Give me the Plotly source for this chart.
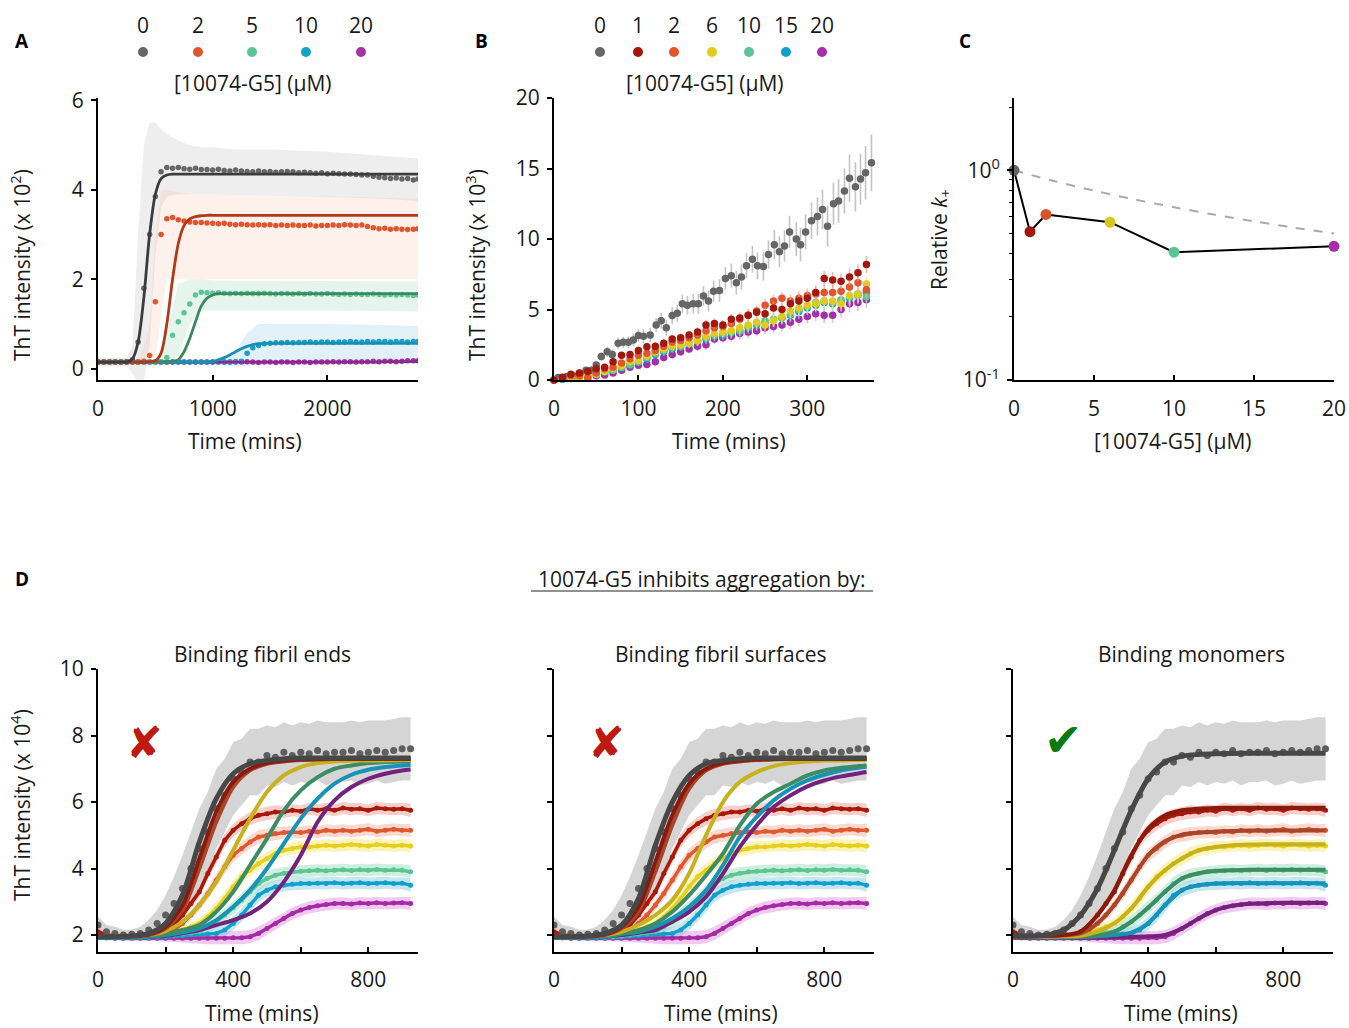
import plotly.graph_objects as go

# ---------------- DATA ----------------
# Panel A: ThT intensity (x 10^2) vs time (mins)
A_conc = ["0", "2", "5", "10", "20"]
A_time = [0, 50, 100, 150, 200, 250, 300, 350, 400, 450, 500, 550, 600, 650, 700, 750, 800, 850, 900, 950,
          1000, 1050, 1100, 1150, 1200, 1250, 1300, 1350, 1400, 1450, 1500, 1550, 1600, 1650, 1700, 1750, 1800,
          1850, 1900, 1950, 2000, 2050, 2100, 2150, 2200, 2250, 2300, 2350, 2400, 2450, 2500, 2550, 2600, 2650,
          2700, 2750, 2790]
A_0 = [0.15, 0.15, 0.15, 0.15, 0.15, 0.16, 0.2, 0.6, 1.8, 3.0,
       3.85, 4.4, 4.5, 4.48, 4.5, 4.47, 4.46, 4.48, 4.45, 4.45,
       4.44, 4.46, 4.43, 4.42, 4.44, 4.42, 4.41, 4.40, 4.42, 4.40,
       4.41, 4.39, 4.40, 4.41, 4.40, 4.38, 4.39, 4.38, 4.37, 4.38,
       4.36, 4.37, 4.36, 4.35, 4.35, 4.34, 4.33, 4.33, 4.30, 4.28,
       4.27, 4.25, 4.26, 4.24, 4.25, 4.22, 4.24]
A_0_fit = [0.15, 0.15, 0.15, 0.15, 0.15, 0.15, 0.22, 0.6, 1.6, 3.0,
           3.9, 4.25, 4.33, 4.35, 4.35, 4.35, 4.35, 4.35, 4.35, 4.35,
           4.35, 4.35, 4.35, 4.35, 4.35, 4.35, 4.35, 4.35, 4.35, 4.35,
           4.35, 4.35, 4.35, 4.35, 4.35, 4.35, 4.35, 4.35, 4.35, 4.35,
           4.35, 4.35, 4.35, 4.35, 4.35, 4.35, 4.35, 4.35, 4.35, 4.35,
           4.35, 4.35, 4.35, 4.35, 4.35, 4.35, 4.35]
A_2 = [0.15, 0.15, 0.15, 0.15, 0.15, 0.15, 0.15, 0.15, 0.17, 0.3,
       1.5, 3.0, 3.35, 3.38, 3.33, 3.30, 3.28, 3.27, 3.27, 3.26,
       3.25, 3.24, 3.25, 3.23, 3.22, 3.23, 3.22, 3.21, 3.22, 3.21,
       3.22, 3.20, 3.21, 3.20, 3.21, 3.20, 3.20, 3.21, 3.19, 3.20,
       3.20, 3.21, 3.20, 3.22, 3.21, 3.20, 3.21, 3.18, 3.15, 3.13,
       3.14, 3.12, 3.13, 3.12, 3.11, 3.12, 3.13]
A_2_fit = [0.15, 0.15, 0.15, 0.15, 0.15, 0.15, 0.15, 0.15, 0.15, 0.16,
           0.18, 0.35, 1.0, 2.0, 2.8, 3.2, 3.35, 3.4, 3.42, 3.43,
           3.43, 3.43, 3.43, 3.43, 3.43, 3.43, 3.43, 3.43, 3.43, 3.43,
           3.43, 3.43, 3.43, 3.43, 3.43, 3.43, 3.43, 3.43, 3.43, 3.43,
           3.43, 3.43, 3.43, 3.43, 3.43, 3.43, 3.43, 3.43, 3.43, 3.43,
           3.43, 3.43, 3.43, 3.43, 3.43, 3.43, 3.43]
A_5 = [0.15, 0.15, 0.15, 0.15, 0.15, 0.15, 0.15, 0.15, 0.15, 0.15,
       0.15, 0.16, 0.25, 0.75, 1.05, 1.25, 1.45, 1.65, 1.71, 1.70,
       1.69, 1.70, 1.69, 1.68, 1.69, 1.68, 1.69, 1.68, 1.68, 1.69,
       1.68, 1.67, 1.68, 1.68, 1.67, 1.68, 1.67, 1.68, 1.67, 1.67,
       1.68, 1.67, 1.66, 1.67, 1.66, 1.67, 1.66, 1.66, 1.67, 1.66,
       1.65, 1.66, 1.65, 1.66, 1.65, 1.64, 1.65]
A_5_fit = [0.15, 0.15, 0.15, 0.15, 0.15, 0.15, 0.15, 0.15, 0.15, 0.15,
           0.15, 0.15, 0.16, 0.17, 0.2, 0.38, 0.68, 1.05, 1.4, 1.58,
           1.65, 1.68, 1.68, 1.68, 1.68, 1.68, 1.68, 1.68, 1.68, 1.68,
           1.68, 1.68, 1.68, 1.68, 1.68, 1.68, 1.68, 1.68, 1.68, 1.68,
           1.68, 1.68, 1.68, 1.68, 1.68, 1.68, 1.68, 1.68, 1.68, 1.68,
           1.68, 1.68, 1.68, 1.68, 1.68, 1.68, 1.68]
A_10 = [0.15, 0.15, 0.15, 0.15, 0.15, 0.15, 0.15, 0.15, 0.15, 0.15,
        0.15, 0.15, 0.15, 0.15, 0.15, 0.15, 0.15, 0.15, 0.15, 0.15,
        0.15, 0.15, 0.15, 0.15, 0.15, 0.17, 0.35, 0.47, 0.52, 0.56,
        0.57, 0.58, 0.58, 0.59, 0.58, 0.59, 0.59, 0.60, 0.59, 0.60,
        0.60, 0.59, 0.60, 0.60, 0.61, 0.60, 0.60, 0.61, 0.60, 0.61,
        0.61, 0.60, 0.61, 0.61, 0.60, 0.61, 0.61]
A_10_fit = [0.15, 0.15, 0.15, 0.15, 0.15, 0.15, 0.15, 0.15, 0.15, 0.15,
            0.15, 0.15, 0.15, 0.15, 0.15, 0.15, 0.15, 0.15, 0.15, 0.15,
            0.16, 0.2, 0.25, 0.31, 0.38, 0.45, 0.5, 0.54, 0.56, 0.57,
            0.57, 0.57, 0.57, 0.57, 0.57, 0.57, 0.57, 0.57, 0.57, 0.57,
            0.57, 0.57, 0.57, 0.57, 0.57, 0.57, 0.57, 0.57, 0.57, 0.57,
            0.57, 0.57, 0.57, 0.57, 0.57, 0.57, 0.57]
A_20 = [0.15, 0.15, 0.15, 0.15, 0.15, 0.15, 0.15, 0.15, 0.15, 0.15,
        0.15, 0.15, 0.15, 0.15, 0.15, 0.15, 0.15, 0.15, 0.15, 0.15,
        0.15, 0.15, 0.15, 0.15, 0.16, 0.15, 0.16, 0.15, 0.14, 0.15,
        0.15, 0.14, 0.15, 0.15, 0.14, 0.15, 0.15, 0.14, 0.15, 0.15,
        0.15, 0.16, 0.15, 0.16, 0.16, 0.15, 0.16, 0.16, 0.17, 0.16,
        0.17, 0.17, 0.16, 0.17, 0.18, 0.18, 0.18]
A_20_fit = [0.15, 0.15, 0.15, 0.15, 0.15, 0.15, 0.15, 0.15, 0.15, 0.15,
            0.15, 0.15, 0.15, 0.15, 0.15, 0.15, 0.15, 0.15, 0.15, 0.15,
            0.15, 0.15, 0.15, 0.15, 0.15, 0.15, 0.15, 0.15, 0.15, 0.15,
            0.15, 0.15, 0.15, 0.15, 0.15, 0.15, 0.15, 0.15, 0.15, 0.15,
            0.15, 0.15, 0.15, 0.15, 0.15, 0.15, 0.15, 0.15, 0.15, 0.15,
            0.16, 0.16, 0.16, 0.16, 0.16, 0.16, 0.16]
# spread (error envelopes) for panel A
A_band_t = [0, 250, 300, 350, 400, 450, 500, 550, 600, 700, 800, 900, 1000, 1200, 1300, 1400, 1500, 2000, 2500, 2790]
A_0_hi = [0.25, 0.25, 0.5, 3.0, 5.0, 5.5, 5.5, 5.35, 5.25, 5.1, 5.0, 4.95, 4.95, 4.9, 4.9, 4.9, 4.9, 4.85, 4.75, 4.7]
A_0_lo = [0.05, 0.05, -0.1, -0.3, -0.25, 0.5, 2.5, 3.6, 3.85, 3.9, 3.9, 3.9, 3.9, 3.88, 3.88, 3.86, 3.86, 3.84, 3.8, 3.75]
A_2_hi = [0.2, 0.2, 0.2, 0.25, 0.5, 1.0, 3.0, 4.0, 4.0, 3.95, 3.9, 3.9, 3.9, 3.88, 3.88, 3.87, 3.86, 3.85, 3.82, 3.8]
A_2_lo = [0.1, 0.1, 0.1, 0.1, 0.1, 0.0, 0.2, 1.2, 2.0, 2.0, 2.0, 2.0, 2.0, 2.0, 2.0, 2.0, 2.0, 2.0, 2.0, 2.0]
A_5_hi = [0.2, 0.2, 0.2, 0.2, 0.2, 0.2, 0.2, 0.3, 0.8, 1.9, 2.0, 2.0, 1.98, 1.97, 1.97, 1.96, 1.96, 1.96, 1.95, 1.95]
A_5_lo = [0.1, 0.1, 0.1, 0.1, 0.1, 0.1, 0.1, 0.1, 0.1, 0.3, 1.0, 1.3, 1.3, 1.3, 1.3, 1.3, 1.3, 1.3, 1.29, 1.28]
A_10_hi = [0.2, 0.2, 0.2, 0.2, 0.2, 0.2, 0.2, 0.2, 0.2, 0.2, 0.2, 0.2, 0.2, 0.4, 0.8, 1.0, 1.0, 1.0, 0.98, 0.95]
A_10_lo = [0.1, 0.1, 0.1, 0.1, 0.1, 0.1, 0.1, 0.1, 0.1, 0.1, 0.1, 0.1, 0.1, 0.05, 0.05, 0.1, 0.15, 0.15, 0.15, 0.15]

# Panel B: early-time ThT (x 10^3)
B_conc = ["0", "1", "2", "6", "10", "15", "20"]
B_0_t = [0, 5, 15, 23, 31, 38, 44, 50, 56, 63,
         69, 76, 82, 88, 94, 100, 106, 114, 121, 127,
         133, 140, 146, 152, 158, 165, 171, 177, 183, 189,
         196, 203, 210, 216, 222, 228, 235, 241, 248, 254,
         261, 267, 273, 279, 287, 292, 298, 305, 312, 318,
         324, 331, 337, 344, 350, 357, 363, 369, 376]
B_0 = [0, 0.17, 0.24, 0.28, 0.47, 0.7, 0.7, 1.06, 1.66, 2.0,
       1.8, 2.6, 2.67, 2.67, 2.84, 3.15, 3.1, 3.2, 3.9, 4.2,
       3.7, 4.57, 4.73, 5.4, 5.3, 5.4, 5.4, 5.96, 5.6, 6.3,
       6.34, 7.2, 7.4, 6.9, 7.3, 8.1, 8.57, 8.1, 8.05, 8.9,
       9.6, 9.1, 9.5, 10.5, 10.0, 9.6, 10.5, 11.3, 11.6, 12.1,
       10.9, 12.5, 12.7, 13.4, 14.3, 13.7, 14.25, 14.7, 15.4]
B_0_err = [0.1, 0.1, 0.15, 0.15, 0.2, 0.2, 0.25, 0.3, 0.3, 0.35,
           0.35, 0.4, 0.4, 0.4, 0.45, 0.45, 0.5, 0.5, 0.5, 0.55,
           0.55, 0.6, 0.6, 0.65, 0.65, 0.7, 0.7, 0.7, 0.75, 0.75,
           0.8, 0.8, 0.85, 0.85, 0.9, 0.9, 0.95, 0.95, 1.0, 1.0,
           1.05, 1.1, 1.1, 1.15, 1.2, 1.2, 1.25, 1.3, 1.35, 1.4,
           1.45, 1.5, 1.55, 1.6, 1.7, 1.75, 1.8, 1.9, 2.0]
B_t = [0, 10, 20, 30, 40, 50, 60, 70, 80, 90, 100, 110, 120, 130, 140, 150, 160, 170, 180, 190,
       200, 210, 220, 230, 240, 250, 260, 270, 280, 290, 300, 310, 320, 330, 340, 350, 360, 370]
B_1 = [0, 0.2, 0.4, 0.5, 0.6, 0.8, 0.9, 1.3, 1.75, 1.8,
       2.1, 2.35, 2.4, 2.6, 2.9, 3.0, 3.2, 3.4, 3.9, 4.0,
       3.9, 4.3, 4.4, 4.6, 4.8, 4.7, 5.1, 5.0, 5.4, 5.6,
       5.8, 6.2, 7.2, 7.1, 7.0, 7.3, 7.6, 8.2]
B_2 = [0, 0.1, 0.3, 0.3, 0.15, 0.5, 0.8, 0.9, 1.2, 1.5,
       1.75, 1.9, 2.1, 2.4, 2.7, 2.8, 3.0, 3.2, 3.5, 3.7,
       3.8, 4.0, 4.3, 4.6, 4.9, 5.3, 5.6, 5.8, 5.6, 5.8,
       6.0, 6.1, 6.2, 6.2, 6.3, 6.6, 6.9, 6.4]
B_6 = [0, 0.1, 0.2, 0.15, 0.3, 0.4, 0.6, 0.8, 1.0, 1.3,
       1.4, 1.7, 2.0, 2.2, 2.4, 2.5, 2.6, 2.8, 3.1, 3.3,
       3.4, 3.5, 3.7, 3.9, 4.1, 3.9, 4.2, 4.5, 4.9, 5.1,
       5.3, 5.4, 5.6, 5.6, 5.4, 6.0, 6.1, 6.8]
B_10 = [0, 0.1, 0.15, 0.2, 0.3, 0.4, 0.6, 0.7, 0.9, 1.1,
        1.3, 1.6, 1.9, 2.1, 2.3, 2.4, 2.6, 2.8, 3.0, 3.2,
        3.3, 3.4, 3.5, 3.8, 4.0, 4.2, 4.3, 4.4, 4.7, 5.0,
        5.2, 5.5, 5.6, 5.5, 5.7, 5.9, 6.0, 5.9]
B_15 = [0, 0.05, 0.15, 0.25, 0.3, 0.45, 0.55, 0.7, 0.85, 1.05,
        1.25, 1.5, 1.8, 2.0, 2.2, 2.4, 2.55, 2.75, 2.9, 3.1,
        3.2, 3.35, 3.5, 3.7, 3.9, 4.1, 4.25, 4.4, 4.6, 4.85,
        5.1, 5.3, 5.5, 5.4, 5.6, 5.8, 6.1, 6.2]
B_20 = [0, 0.05, 0.1, 0.15, 0.2, 0.3, 0.35, 0.5, 0.7, 0.9,
        1.05, 1.1, 1.3, 1.6, 1.8, 2.0, 2.2, 2.4, 2.5, 2.9,
        3.0, 3.1, 3.3, 3.4, 3.5, 3.7, 3.8, 3.9, 4.1, 4.3,
        4.5, 4.7, 4.6, 4.6, 5.0, 5.4, 5.5, 5.7]
B_err = [0.1, 0.1, 0.1, 0.15, 0.15, 0.15, 0.2, 0.2, 0.2, 0.2,
         0.25, 0.25, 0.25, 0.3, 0.3, 0.3, 0.3, 0.35, 0.35, 0.35,
         0.35, 0.4, 0.4, 0.4, 0.4, 0.45, 0.45, 0.45, 0.5, 0.5,
         0.5, 0.5, 0.55, 0.55, 0.55, 0.6, 0.6, 0.6]

# Panel C: relative k+
C_conc = [0, 1, 2, 6, 10, 20]
C_k = [1.0, 0.51, 0.616, 0.566, 0.407, 0.434]
C_ref_conc = [0, 2.5, 5, 7.5, 10, 12.5, 15, 17.5, 20]
C_ref_k = [1.0, 0.889, 0.8, 0.727, 0.667, 0.615, 0.571, 0.533, 0.5]

# Panel D: ThT intensity (x 10^4) data and model fits
D_titles = ["Binding fibril ends", "Binding fibril surfaces", "Binding monomers"]
D_t = [0, 25, 50, 75, 100, 125, 150, 175, 200, 225, 250, 275, 300, 325, 350, 375, 400, 425, 450, 475,
       500, 525, 550, 575, 600, 625, 650, 675, 700, 725, 750, 775, 800, 825, 850, 875, 900, 925]
D_0 = [2.3, 2.1, 2.05, 2.0, 2.02, 2.05, 2.15, 2.35, 2.6, 2.95,
       3.4, 4.0, 4.6, 5.1, 5.8, 6.2, 6.7, 6.9, 7.2, 7.2,
       7.4, 7.35, 7.5, 7.4, 7.5, 7.45, 7.55, 7.45, 7.5, 7.5,
       7.55, 7.45, 7.5, 7.55, 7.5, 7.55, 7.6, 7.6]
D_0_err = [0.25, 0.2, 0.2, 0.15, 0.15, 0.2, 0.3, 0.4, 0.6, 0.8,
           1.0, 1.1, 1.2, 1.2, 1.2, 1.1, 1.1, 1.0, 1.0, 1.0,
           0.9, 0.9, 0.9, 0.9, 0.9, 0.9, 0.9, 0.95, 0.9, 0.9,
           0.9, 0.95, 0.95, 0.9, 0.95, 0.95, 0.95, 0.95]
D_1 = [2.1, 2.0, 1.98, 1.97, 1.96, 1.97, 1.98, 2.0, 2.1, 2.3,
       2.6, 2.95, 3.3, 3.85, 4.35, 4.85, 5.15, 5.35, 5.5, 5.6,
       5.65, 5.7, 5.7, 5.75, 5.72, 5.8, 5.75, 5.8, 5.75, 5.82,
       5.78, 5.8, 5.75, 5.82, 5.8, 5.78, 5.8, 5.75]
D_2 = [2.05, 1.98, 1.96, 1.95, 1.95, 1.96, 1.97, 1.99, 2.05, 2.15,
       2.35, 2.6, 2.9, 3.25, 3.65, 4.05, 4.4, 4.6, 4.8, 4.95,
       5.0, 5.05, 5.08, 5.1, 5.08, 5.12, 5.1, 5.15, 5.12, 5.15,
       5.12, 5.15, 5.18, 5.12, 5.15, 5.18, 5.15, 5.15]
D_6 = [2.0, 1.96, 1.95, 1.94, 1.94, 1.95, 1.96, 1.98, 2.02, 2.08,
       2.15, 2.25, 2.35, 2.55, 2.8, 3.1, 3.45, 3.75, 3.95, 4.15,
       4.3, 4.45, 4.55, 4.6, 4.65, 4.65, 4.68, 4.7, 4.68, 4.7,
       4.72, 4.7, 4.68, 4.72, 4.7, 4.68, 4.7, 4.68]
D_10 = [1.98, 1.95, 1.93, 1.93, 1.93, 1.94, 1.94, 1.95, 1.97, 2.0,
        2.03, 2.06, 2.1, 2.25, 2.4, 2.6, 2.82, 3.05, 3.3, 3.55,
        3.7, 3.8, 3.86, 3.9, 3.92, 3.93, 3.95, 3.93, 3.95, 3.96,
        3.94, 3.96, 3.95, 3.97, 3.95, 3.96, 3.95, 3.9]
D_15 = [1.95, 1.92, 1.91, 1.91, 1.91, 1.92, 1.92, 1.93, 1.94, 1.96,
        1.98, 2.0, 2.02, 2.03, 2.05, 2.15, 2.35, 2.6, 2.9, 3.2,
        3.35, 3.45, 3.5, 3.53, 3.55, 3.55, 3.56, 3.55, 3.57, 3.55,
        3.56, 3.57, 3.55, 3.56, 3.57, 3.55, 3.56, 3.5]
D_20 = [1.95, 1.92, 1.9, 1.9, 1.9, 1.9, 1.9, 1.9, 1.9, 1.9,
        1.9, 1.9, 1.9, 1.9, 1.9, 1.9, 1.92, 1.92, 1.95, 2.05,
        2.2, 2.35, 2.5, 2.65, 2.75, 2.83, 2.88, 2.92, 2.95, 2.95,
        2.93, 2.96, 2.95, 2.97, 2.95, 2.96, 2.97, 2.95]
D_err = [0.1, 0.08, 0.08, 0.08, 0.08, 0.08, 0.08, 0.08, 0.08, 0.1,
         0.12, 0.14, 0.16, 0.18, 0.2, 0.2, 0.2, 0.2, 0.2, 0.2,
         0.2, 0.2, 0.18, 0.18, 0.18, 0.18, 0.18, 0.18, 0.18, 0.18,
         0.18, 0.18, 0.18, 0.18, 0.18, 0.18, 0.18, 0.2]

D_fit_t = [0, 50, 100, 150, 200, 250, 300, 350, 400, 450, 500, 550, 600, 650, 700, 750, 800, 850, 900, 925]
# fibril ends model
E_0 = [1.95, 1.95, 1.97, 2.05, 2.35, 3.2, 4.8, 6.1, 6.85, 7.15, 7.25, 7.3, 7.32, 7.32, 7.32, 7.32, 7.32, 7.32, 7.32, 7.32]
E_1 = [1.95, 1.95, 1.96, 2.02, 2.25, 2.9, 4.3, 5.7, 6.6, 7.0, 7.18, 7.25, 7.28, 7.29, 7.3, 7.3, 7.3, 7.3, 7.3, 7.3]
E_2 = [1.95, 1.95, 1.96, 2.0, 2.2, 2.75, 4.0, 5.4, 6.45, 6.95, 7.15, 7.22, 7.26, 7.28, 7.29, 7.29, 7.29, 7.29, 7.29, 7.29]
E_6 = [1.95, 1.95, 1.96, 2.0, 2.12, 2.4, 2.9, 3.6, 4.55, 5.5, 6.3, 6.8, 7.05, 7.17, 7.22, 7.24, 7.25, 7.25, 7.26, 7.26]
E_10 = [1.93, 1.93, 1.94, 1.97, 2.03, 2.15, 2.3, 2.7, 3.3, 4.1, 4.9, 5.75, 6.35, 6.75, 7.0, 7.1, 7.17, 7.2, 7.22, 7.22]
E_15 = [1.92, 1.92, 1.93, 1.95, 2.0, 2.08, 2.2, 2.45, 2.85, 3.35, 4.0, 4.75, 5.5, 6.1, 6.55, 6.82, 6.97, 7.05, 7.1, 7.12]
E_20 = [1.92, 1.92, 1.93, 1.94, 1.97, 2.05, 2.15, 2.3, 2.45, 2.65, 3.0, 3.6, 4.4, 5.4, 6.05, 6.45, 6.7, 6.85, 6.95, 6.98]
# fibril surfaces model
S_0 = [1.95, 1.95, 1.97, 2.05, 2.3, 3.1, 4.7, 6.0, 6.8, 7.15, 7.25, 7.3, 7.32, 7.32, 7.32, 7.32, 7.32, 7.32, 7.32, 7.32]
S_1 = [1.95, 1.95, 1.96, 2.02, 2.25, 2.85, 4.2, 5.6, 6.55, 7.0, 7.18, 7.25, 7.28, 7.29, 7.3, 7.3, 7.3, 7.3, 7.3, 7.3]
S_2 = [1.95, 1.95, 1.96, 2.0, 2.2, 2.7, 3.9, 5.3, 6.4, 6.95, 7.15, 7.22, 7.26, 7.28, 7.29, 7.29, 7.29, 7.29, 7.29, 7.29]
S_6 = [1.95, 1.95, 1.96, 2.0, 2.1, 2.3, 2.6, 3.05, 3.85, 5.0, 6.0, 6.6, 6.9, 7.08, 7.17, 7.22, 7.25, 7.25, 7.26, 7.26]
S_10 = [1.93, 1.93, 1.94, 1.97, 2.05, 2.15, 2.35, 2.7, 3.2, 3.8, 4.45, 5.3, 5.95, 6.3, 6.55, 6.8, 6.95, 7.03, 7.08, 7.1]
S_15 = [1.92, 1.92, 1.93, 1.95, 2.03, 2.1, 2.25, 2.5, 2.85, 3.35, 4.1, 4.95, 5.55, 6.05, 6.4, 6.65, 6.82, 6.95, 7.03, 7.06]
S_20 = [1.92, 1.92, 1.93, 1.95, 2.0, 2.07, 2.15, 2.4, 2.7, 3.15, 3.85, 4.65, 5.3, 5.85, 6.2, 6.47, 6.65, 6.77, 6.86, 6.9]
# monomer binding model
M_0 = [1.97, 1.97, 2.0, 2.15, 2.6, 3.4, 4.55, 5.75, 6.7, 7.2, 7.38, 7.43, 7.45, 7.46, 7.47, 7.47, 7.47, 7.47, 7.47, 7.47]
M_1 = [1.96, 1.96, 1.97, 2.0, 2.1, 2.6, 3.35, 4.4, 5.2, 5.6, 5.75, 5.8, 5.82, 5.83, 5.83, 5.83, 5.83, 5.83, 5.83, 5.83]
M_2 = [1.96, 1.96, 1.97, 1.99, 2.05, 2.35, 2.9, 3.65, 4.4, 4.82, 5.02, 5.08, 5.11, 5.13, 5.14, 5.14, 5.14, 5.14, 5.14, 5.14]
M_6 = [1.95, 1.95, 1.95, 1.96, 1.98, 2.1, 2.35, 2.8, 3.45, 3.95, 4.3, 4.55, 4.65, 4.7, 4.72, 4.73, 4.73, 4.73, 4.73, 4.73]
M_10 = [1.94, 1.94, 1.94, 1.94, 1.95, 1.98, 2.1, 2.4, 2.82, 3.3, 3.7, 3.86, 3.93, 3.95, 3.96, 3.96, 3.96, 3.96, 3.96, 3.96]
M_15 = [1.93, 1.93, 1.93, 1.93, 1.94, 1.96, 2.0, 2.07, 2.35, 2.9, 3.35, 3.5, 3.55, 3.56, 3.56, 3.56, 3.56, 3.56, 3.56, 3.56]
M_20 = [1.92, 1.92, 1.92, 1.92, 1.92, 1.92, 1.93, 1.94, 1.96, 2.0, 2.2, 2.5, 2.75, 2.88, 2.94, 2.96, 2.97, 2.97, 2.97, 2.97]

# ---------------- STYLE ----------------
W, H = 1349, 1028
FONT = "Open Sans"
FS = 21
TXT = "#1a1a1a"


def px(x):
    return x / W


def py(y):
    return 1 - y / H


COL_A = {"0": "#666666", "2": "#e0552e", "5": "#5cc495", "10": "#17a0c8", "20": "#a533a8"}
FIT_A = {"0": "#3c3c3c", "2": "#b03a18", "5": "#3b8a62", "10": "#1a8fb5", "20": "#8b2a8e"}
BAND_A = {"0": "rgba(195,195,195,0.28)", "2": "rgba(250,190,170,0.22)",
          "5": "rgba(160,220,190,0.28)", "10": "rgba(150,205,225,0.28)"}
D_COL = {"0": "#5e5e5e", "1": "#a8190b", "2": "#e0582f", "6": "#e6d01c",
         "10": "#5cc495", "15": "#10a0cc", "20": "#a52aa5"}
D_BAND = {"0": "rgba(185,185,185,0.6)", "1": "rgba(240,160,150,0.5)", "2": "rgba(245,180,160,0.5)",
          "6": "rgba(248,236,140,0.6)", "10": "rgba(165,225,195,0.55)", "15": "rgba(150,210,230,0.55)",
          "20": "rgba(225,150,225,0.5)"}
D_FIT = {"0": "#474747", "1": "#8a1a0c", "2": "#a8452a", "6": "#c7b21c",
         "10": "#3c8d66", "15": "#1893b8", "20": "#74237c"}

fig = go.Figure()


def band(t, lo, hi, color, xa, ya):
    fig.add_trace(go.Scatter(x=list(t) + list(t)[::-1], y=list(hi) + list(lo)[::-1],
                             fill="toself", fillcolor=color, line=dict(width=0), mode="lines",
                             hoverinfo="skip", showlegend=False, xaxis=xa, yaxis=ya))


def line(t, v, color, width, xa, ya, spline=True, dash=None):
    fig.add_trace(go.Scatter(x=t, y=v, mode="lines",
                             line=dict(color=color, width=width, shape="spline" if spline else "linear",
                                       smoothing=0.8, dash=dash),
                             showlegend=False, xaxis=xa, yaxis=ya, hoverinfo="skip"))


def dots(t, v, color, size, xa, ya, err=None, errcolor=None, clip=True):
    kw = {}
    if err is not None:
        kw["error_y"] = dict(type="data", array=err, visible=True, color=errcolor, thickness=1.6, width=0)
    fig.add_trace(go.Scatter(x=t, y=v, mode="markers", marker=dict(color=color, size=size, line=dict(width=0)),
                             showlegend=False, xaxis=xa, yaxis=ya, cliponaxis=clip, **kw))


# ---- Panel A ----
A_series = {"0": (A_0, A_0_fit), "2": (A_2, A_2_fit), "5": (A_5, A_5_fit),
            "10": (A_10, A_10_fit), "20": (A_20, A_20_fit)}
A_bands = {"0": (A_0_lo, A_0_hi), "2": (A_2_lo, A_2_hi), "5": (A_5_lo, A_5_hi), "10": (A_10_lo, A_10_hi)}
for k in ["0", "2", "5", "10"]:
    lo, hi = A_bands[k]
    band(A_band_t, lo, hi, BAND_A[k], "x", "y")
for k in ["20", "10", "5", "2", "0"]:
    dots(A_time, A_series[k][0], COL_A[k], 5.5, "x", "y")
for k in ["20", "10", "5", "2", "0"]:
    line(A_time, A_series[k][1], FIT_A[k], 2.8, "x", "y")

# ---- Panel B ----
B_series = [("20", B_20, "#a52fa8"), ("15", B_15, "#12a0cb"), ("10", B_10, "#5cc495"),
            ("6", B_6, "#e3cc17"), ("2", B_2, "#e0552e"), ("1", B_1, "#a5170b")]
B_errcol = {"1": "rgba(235,150,140,0.7)", "2": "rgba(245,175,155,0.7)", "6": "rgba(245,230,140,0.7)",
            "10": "rgba(170,225,200,0.7)", "15": "rgba(150,210,230,0.7)", "20": "rgba(220,160,220,0.7)"}
dots(B_0_t, B_0, "#666666", 7.5, "x2", "y2", err=B_0_err, errcolor="rgba(180,180,180,0.8)", clip=False)
for k, v, c in B_series:
    dots(B_t, v, c, 7.5, "x2", "y2", err=B_err, errcolor=B_errcol[k], clip=False)

# ---- Panel C ----
line(C_ref_conc, C_ref_k, "#aaaaaa", 2, "x3", "y3", spline=True, dash="dash")
line(C_conc, C_k, "black", 2, "x3", "y3", spline=False)
fig.add_trace(go.Scatter(x=C_conc, y=C_k, mode="markers",
                         marker=dict(color=["#666666", "#a5170b", "#d9542e", "#d8c41a", "#5cc495", "#a52fa8"],
                                     size=11, line=dict(width=0)),
                         showlegend=False, xaxis="x3", yaxis="y3", cliponaxis=False))

# ---- Panel D ----
D_data = [("0", D_0), ("1", D_1), ("2", D_2), ("6", D_6), ("10", D_10), ("15", D_15), ("20", D_20)]
D_fits = [
    {"0": E_0, "1": E_1, "2": E_2, "6": E_6, "10": E_10, "15": E_15, "20": E_20},
    {"0": S_0, "1": S_1, "2": S_2, "6": S_6, "10": S_10, "15": S_15, "20": S_20},
    {"0": M_0, "1": M_1, "2": M_2, "6": M_6, "10": M_10, "15": M_15, "20": M_20},
]
for i in range(3):
    xa, ya = "x%d" % (4 + i), "y%d" % (4 + i)
    for k, v in D_data:
        e = D_0_err if k == "0" else D_err
        band(D_t, [a - b for a, b in zip(v, e)], [a + b for a, b in zip(v, e)], D_BAND[k], xa, ya)
    for k, v in D_data[1:][::-1]:
        fig.add_trace(go.Scatter(x=D_t, y=v, mode="lines+markers",
                                 line=dict(color=D_COL[k], width=3.5),
                                 marker=dict(color=D_COL[k], size=5),
                                 showlegend=False, xaxis=xa, yaxis=ya, hoverinfo="skip"))
    dots(D_t, D_0, D_COL["0"], 7, xa, ya)
    for k in ["20", "15", "10", "6", "2", "1", "0"]:
        line(D_fit_t, D_fits[i][k], D_FIT[k], 5 if k == "0" else 4, xa, ya)

# ---------------- AXES ----------------
tickfont = dict(family=FONT, size=FS, color=TXT)


def xax(x0, x1, rng, tickvals, anchor, minor_vals=None, standoff=9):
    d = dict(domain=[px(x0), px(x1)], range=rng, anchor=anchor, showline=True, linecolor="black",
             linewidth=2, ticks="inside", ticklen=5, tickwidth=1.5, tickcolor="black",
             tickmode="array", tickvals=tickvals, ticktext=[str(v) for v in tickvals],
             showgrid=False, zeroline=False, automargin=False,
             tickfont=tickfont, ticklabelstandoff=standoff)
    if minor_vals:
        d["minor"] = dict(tickmode="array", tickvals=minor_vals, ticks="inside", ticklen=5,
                          tickwidth=1.5, tickcolor="black", showgrid=False)
    return d


def yax(y_top, y_bot, rng, tickvals, ticktext, anchor, show=True, typ="linear"):
    return dict(domain=[py(y_bot), py(y_top)], range=rng, anchor=anchor, showline=True, linecolor="black",
                linewidth=2, ticks="outside", ticklen=5, tickwidth=1.5, tickcolor="black",
                tickmode="array", tickvals=tickvals, ticktext=ticktext, showgrid=False, zeroline=False,
                automargin=False, tickfont=tickfont, showticklabels=show, type=typ, ticklabelstandoff=3)


A_xt = [0, 1000, 2000]
A_yt = [0, 2, 4, 6]
B_xt = [0, 100, 200, 300]
B_yt = [0, 5, 10, 15, 20]
C_xt = [0, 5, 10, 15, 20]
C_yt = [0.1, 1]
D_xt = [0, 400, 800]
D_xminor = [200, 600]
D_yt = [2, 4, 6, 8, 10]

layout = dict(
    width=W, height=H, margin=dict(l=0, r=0, t=0, b=0, pad=0, autoexpand=False), autosize=False,
    paper_bgcolor="white", plot_bgcolor="white", showlegend=False,
    font=dict(family=FONT, size=FS, color=TXT),
    xaxis=xax(98, 418, [0, 2790], A_xt, "y"),
    yaxis=yax(98, 380, [-0.25, 6.05], A_yt, [str(v) for v in A_yt], "x"),
    xaxis2=xax(554, 874, [0, 379], B_xt, "y2"),
    yaxis2=yax(98, 380, [0, 20], B_yt, [str(v) for v in B_yt], "x2"),
    xaxis3=xax(1014, 1334, [0, 20], C_xt, "y3"),
    yaxis3=yax(98, 380, [-1, 0.345], C_yt, ["10<sup>-1</sup>", "10<sup>0</sup>"], "x3", typ="log"),
)
layout["yaxis3"]["minor"] = dict(tickmode="array", tickvals=[0.2, 0.3, 0.4, 0.5, 0.6, 0.7, 0.8, 0.9, 2],
                                 ticks="outside", ticklen=3, tickwidth=1.2, tickcolor="black")
D_x = [(98, 418), (554, 874), (1013, 1333)]
for i in range(3):
    n = 4 + i
    layout["xaxis%d" % n] = xax(D_x[i][0], D_x[i][1], [0, 947], D_xt, "y%d" % n, minor_vals=D_xminor, standoff=8)
    layout["yaxis%d" % n] = yax(669, 952, [1.49, 10], D_yt, [str(v) for v in D_yt], "x%d" % n, show=(i == 0))

# ---------------- ANNOTATIONS ----------------
ann = []


def text(x, y, s, size=FS, angle=0, bold=False, color=TXT, family=FONT, xanchor="center"):
    ann.append(dict(x=px(x), y=py(y), xref="paper", yref="paper", text=("<b>%s</b>" % s) if bold else s,
                    showarrow=False, textangle=angle, xanchor=xanchor, yanchor="middle",
                    font=dict(family=family, size=size, color=color)))


for lbl, (x, y) in zip(["A", "B", "C", "D"], [(22, 41), (482, 41), (965, 41), (22, 579)]):
    text(x, y, lbl, size=19, bold=True, color="black")

shapes = []
A_leg_x = [143, 198, 252, 306, 361]
for lbl, x in zip(A_conc, A_leg_x):
    text(x, 25, lbl)
    shapes.append(dict(type="circle", xref="paper", yref="paper", x0=px(x - 5), x1=px(x + 5),
                       y0=py(57), y1=py(47), fillcolor=COL_A[lbl], line=dict(width=0)))
text(253, 83, "[10074-G5] (µM)")
B_leg_x = [600, 638, 674, 712, 749, 786, 822]
B_leg_col = ["#666666", "#a5170b", "#e0552e", "#e3cc17", "#5cc495", "#12a0cb", "#a52fa8"]
for lbl, x, c in zip(B_conc, B_leg_x, B_leg_col):
    text(x, 25, lbl)
    shapes.append(dict(type="circle", xref="paper", yref="paper", x0=px(x - 5), x1=px(x + 5),
                       y0=py(57), y1=py(47), fillcolor=c, line=dict(width=0)))
text(705, 83, "[10074-G5] (µM)")

text(20, 265, "ThT intensity (x 10<sup>2</sup>)", angle=-90)
text(475, 265, "ThT intensity (x 10<sup>3</sup>)", angle=-90)
text(940, 240, "Relative <i>k</i><sub>+</sub>", angle=-90)
text(20, 805, "ThT intensity (x 10<sup>4</sup>)", angle=-90)
text(245, 441, "Time (mins)")
text(729, 441, "Time (mins)")
text(1173, 441, "[10074-G5] (µM)")
for cx in [262, 721, 1181]:
    text(cx, 1013, "Time (mins)")
for cx, t in zip([262, 721, 1191], D_titles):
    text(cx, 654, t)
text(702, 579, "10074-G5 inhibits aggregation by:")
shapes.append(dict(type="line", xref="paper", yref="paper", x0=px(531), x1=px(873), y0=py(591), y1=py(591),
                   line=dict(color="#222222", width=1.2)))
text(144, 742, "✘", size=44, color="#c0190f", family="DejaVu Sans")
text(606, 742, "✘", size=44, color="#c0190f", family="DejaVu Sans")
text(1063, 740, "✔", size=46, color="#0b7a12", family="DejaVu Sans")

layout["annotations"] = ann
layout["shapes"] = shapes
fig.update_layout(**layout)
fig.write_html("out.html", config={"displayModeBar": False, "staticPlot": False},
               post_script="document.body.style.margin='0px';document.body.style.overflow='hidden';")
